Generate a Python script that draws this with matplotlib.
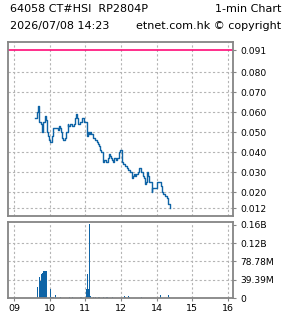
import matplotlib
matplotlib.use("Agg")
import matplotlib.pyplot as plt

# price trace (time, price)
price_times = [
    "09:35", "09:39", "09:40", "09:42", "09:45", "09:47", "09:49", "09:52", "09:53", "09:55",
    "09:56", "09:57", "09:59", "10:01", "10:03", "10:06", "10:10", "10:13", "10:15", "10:17",
    "10:19", "10:21", "10:23", "10:26", "10:27", "10:30", "10:31", "10:34", "10:37", "10:40",
    "10:42", "10:44", "10:46", "10:48", "10:51", "10:54", "10:56", "10:58", "11:02", "11:04",
    "11:06", "11:08", "11:09", "11:11", "11:13", "11:16", "11:19", "11:21", "11:23", "11:25",
    "11:26", "11:29", "11:30", "11:32", "11:34", "11:36", "11:38", "11:40", "11:41", "11:43",
    "11:45", "11:47", "11:49", "11:51", "11:53", "11:54", "11:57", "11:58", "13:00", "13:02",
    "13:04", "13:07", "13:10", "13:12", "13:15", "13:18", "13:20", "13:22", "13:24", "13:25",
    "13:28", "13:29", "13:31", "13:33", "13:35", "13:37", "13:39", "13:41", "13:42", "13:43",
    "13:44", "13:46", "13:48", "13:50", "13:52", "13:53", "13:56", "13:57", "13:59", "14:01",
    "14:05", "14:07", "14:09", "14:11", "14:14", "14:17", "14:19", "14:20", "14:22", "14:23",
]
prices = [
    0.057, 0.060, 0.063, 0.055, 0.054, 0.050, 0.055, 0.058, 0.056, 0.053,
    0.050, 0.048, 0.046, 0.045, 0.048, 0.052, 0.052, 0.051, 0.053, 0.052,
    0.050, 0.047, 0.046, 0.047, 0.050, 0.054, 0.053, 0.054, 0.053, 0.054,
    0.057, 0.059, 0.057, 0.054, 0.055, 0.057, 0.057, 0.055, 0.048, 0.050,
    0.049, 0.050, 0.049, 0.049, 0.047, 0.046, 0.045, 0.044, 0.043, 0.041,
    0.040, 0.037, 0.035, 0.036, 0.035, 0.035, 0.037, 0.039, 0.038, 0.037,
    0.036, 0.035, 0.037, 0.036, 0.036, 0.037, 0.040, 0.041, 0.041, 0.035,
    0.034, 0.033, 0.032, 0.031, 0.030, 0.027, 0.028, 0.029, 0.028, 0.029,
    0.030, 0.030, 0.032, 0.030, 0.030, 0.028, 0.027, 0.024, 0.025, 0.025,
    0.030, 0.028, 0.025, 0.025, 0.020, 0.022, 0.022, 0.022, 0.022, 0.025,
    0.025, 0.023, 0.020, 0.019, 0.018, 0.017, 0.015, 0.014, 0.012, 0.012,
]

# volume bars (time, millions)
vol_times = [
    "09:38", "09:39", "09:41", "09:42", "09:44", "09:46", "09:47", "09:49", "09:51", "09:53",
    "09:54", "10:00", "10:01", "10:03", "10:05", "10:08", "10:17", "10:32", "10:37", "10:51",
    "10:53", "11:01", "11:03", "11:05", "11:06", "11:08", "11:12", "11:16", "11:22", "11:29",
    "11:35", "11:37", "11:44", "13:05", "13:07", "13:11", "13:13", "13:33", "14:06", "14:19",
    "14:21",
]
volumes_m = [
    25, 25, 46, 24, 36, 52, 55, 58, 59, 59,
    59, 20, 3, 3, 3, 7, 2, 2, 2, 2,
    2, 19, 52, 19, 158, 5, 3, 3, 3, 3,
    3, 3, 2, 5, 3, 5, 3, 3, 8, 8,
    3,
]

prev_close = 0.091
price_ticks = [0.012, 0.020, 0.030, 0.040, 0.050, 0.060, 0.070, 0.080, 0.091]
price_labels = ["0.012", "0.020", "0.030", "0.040", "0.050", "0.060", "0.070", "0.080", "0.091"]
vol_ticks_m = [0, 39.39, 78.78, 118.17, 157.56]
vol_labels = ["0", "39.39M", "78.78M", "0.12B", "0.16B"]
hour_ticks = ["09:00", "10:00", "11:00", "12:00", "14:00", "15:00", "16:00"]
hour_labels = ["09", "10", "11", "12", "14", "15", "16"]

BLUE = "#0f64a6"
PINK = "#ff0a78"
FRAME = "#858585"
GRID = "#b4b4b4"


def to_x(t: str) -> float:
    # minutes since 09:00, lunch hour squeezed out
    h, m = map(int, t.split(":"))
    x = h * 60 + m - 540
    if h >= 13:
        x -= 60
    return x


def style_axes(ax) -> None:
    for s in ax.spines.values():
        s.set_color(FRAME)
        s.set_linewidth(1.3)
    ax.yaxis.tick_right()
    ax.tick_params(axis="y", length=2, width=0.8, color=FRAME, pad=3,
                   labelsize=6.6, labelcolor="black")
    ax.tick_params(axis="x", length=2, width=0.8, color=FRAME, pad=2,
                   labelsize=6.8, labelcolor="black")
    ax.set_xlim(-10, 369)
    ax.set_xticks([to_x(t) for t in hour_ticks])
    for xv in ax.get_xticks():
        ax.axvline(xv, color=GRID, lw=0.8, ls=(0, (2, 2)), zorder=0)


fig = plt.figure(figsize=(2.85, 3.18), dpi=100)
ax1 = fig.add_axes([0.029, 0.3208, 0.789, 0.548])
ax2 = fig.add_axes([0.029, 0.062, 0.789, 0.2409])

# price panel
style_axes(ax1)
ax1.set_ylim(0.00825, 0.0953)
ax1.set_yticks(price_ticks)
ax1.set_yticklabels(price_labels)
ax1.set_xticklabels([])
ax1.tick_params(axis="x", length=0)
for yv in price_ticks[:-1]:
    ax1.axhline(yv, color=GRID, lw=0.8, ls=(0, (2, 2)), zorder=0)
ax1.axhline(prev_close, color=PINK, lw=1.2, zorder=1)
ax1.plot([to_x(t) for t in price_times], prices, drawstyle="steps-post",
         color=BLUE, lw=1.0, zorder=2)

# volume panel
style_axes(ax2)
ax2.set_ylim(0, 164)
ax2.set_yticks(vol_ticks_m)
ax2.set_yticklabels(vol_labels)
ax2.set_xticklabels(hour_labels)
for yv in vol_ticks_m[1:-1]:
    ax2.axhline(yv, color=GRID, lw=0.8, ls=(0, (2, 2)), zorder=0)
ax2.bar([to_x(t) for t in vol_times], volumes_m, width=1.9, align="edge",
        color=BLUE, linewidth=0, antialiased=False, zorder=2)

# header
fig.text(10 / 285, 1 - 9 / 318, "64058 CT#HSI  RP2804P", fontsize=8, va="center", ha="left")
fig.text(281 / 285, 1 - 9 / 318, "1-min Chart", fontsize=8, va="center", ha="right")
fig.text(10 / 285, 1 - 26 / 318, "2026/07/08 14:23", fontsize=8, va="center", ha="left")
fig.text(281 / 285, 1 - 26 / 318, "etnet.com.hk \u00a9 copyright", fontsize=8, va="center", ha="right")

fig.savefig("out.png", dpi=100, facecolor="white")
